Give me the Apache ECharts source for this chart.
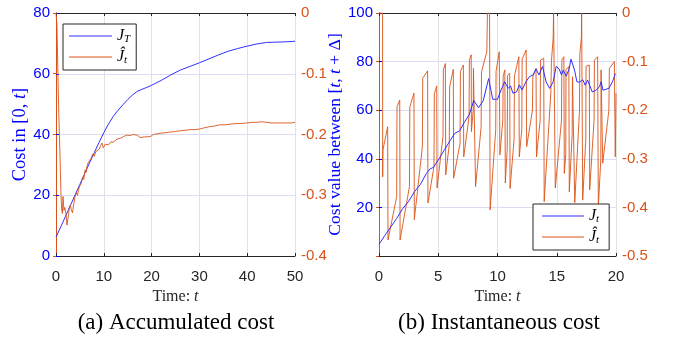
<!DOCTYPE html>
<html>
<head>
<meta charset="utf-8">
<script src="https://cdn.jsdelivr.net/npm/echarts@6/dist/echarts.min.js"></script>
<style>
  html, body { margin: 0; padding: 0; background: #fff; }
  #c { width: 677px; height: 345px; }
</style>
</head>
<body>
<div id="c"></div>
<script>
// ---------- (a) Accumulated cost ----------
const accT = [0,1,2,3,4,5,6,7,8,9,10,11,12,13,14,15,16,17,18,19,20,22,24,26,28,30,32,34,36,38,40,42,44,46,48,50];
const accJ = [6.2,9.6,13.1,16.6,20.1,23.6,27.1,30.6,34.0,37.4,40.6,43.5,46.0,48.0,49.8,51.5,53.0,54.2,54.9,55.5,56.2,57.8,59.6,61.2,62.4,63.6,64.9,66.2,67.4,68.3,69.1,69.8,70.3,70.4,70.5,70.7];

const accHatT = [0,0.2,0.4,0.6,0.85,1.05,1.2,1.35,1.46,1.55,1.67,1.85,2.1,2.3,2.5,2.65,2.8,3.0,3.2,3.45,3.7,4.0,4.25,4.5,4.7,4.9,5.1,5.3,5.55,5.8,6.1,6.3,6.5,6.8,7.0,7.3,7.7,8.0,8.35,8.7,9.05,9.35,9.6,9.9,10.3,10.7,11.0,11.5,12.0,12.5,13.0,13.5,14.0,14.5,15.0,15.5,16.0,17.0,17.6,18.5,19.7,20.4,21.8,23.0,23.9,25.0,25.9,27.0,28.0,29.0,30.1,31.0,32.2,33.2,34.3,35.4,36.4,37.5,38.5,39.9,41.0,42.0,43.0,44.1,45.0,46.2,47.3,48.3,49.2,50];
const accHatV = [0,-0.02,-0.1,-0.17,-0.24,-0.3,-0.325,-0.33,-0.302,-0.3,-0.325,-0.32,-0.332,-0.349,-0.347,-0.33,-0.32,-0.316,-0.324,-0.329,-0.315,-0.302,-0.296,-0.3,-0.292,-0.286,-0.288,-0.28,-0.27,-0.274,-0.258,-0.262,-0.252,-0.245,-0.248,-0.24,-0.232,-0.236,-0.228,-0.23,-0.224,-0.218,-0.214,-0.222,-0.216,-0.214,-0.217,-0.212,-0.213,-0.209,-0.207,-0.206,-0.204,-0.202,-0.201,-0.202,-0.2,-0.201,-0.205,-0.204,-0.2035,-0.2,-0.198,-0.197,-0.196,-0.195,-0.194,-0.193,-0.192,-0.192,-0.191,-0.189,-0.187,-0.186,-0.184,-0.184,-0.183,-0.182,-0.182,-0.181,-0.18,-0.18,-0.179,-0.18,-0.181,-0.181,-0.181,-0.181,-0.181,-0.18];

// ---------- (b) Instantaneous cost ----------
const instT = [0,0.5,1,1.5,2,2.5,3,3.5,4,4.3,4.6,5,5.5,6,6.4,6.8,7.2,7.6,8.0,8.4,8.8,9.25,9.6,10.0,10.3,10.6,10.9,11.1,11.3,11.6,11.85,12.07,12.4,12.7,13.0,13.25,13.5,13.8,14.1,14.4,14.7,14.95,15.2,15.4,15.55,15.8,16.05,16.2,16.5,16.7,16.9,17.2,17.4,17.6,18.0,18.3,18.6,18.75,18.9,19.4,19.7,19.95,20];
const instJ = [4.8,8.5,12,15.5,19.5,22.5,26.5,29.5,34,35.8,36.5,39.5,43.5,47.5,50.5,51.5,55,58,64,61,64,73,64.5,64.5,68.3,71.7,69,70,67,67.5,70.4,68.3,71.7,73.8,74.5,77,74.5,78,71.7,69,71.7,78,77,74.5,76.5,74,77,81,76.5,71.7,71.5,72.5,70.3,72.4,67.5,68.2,69.6,71.7,68.2,69,71.7,75.1,75];

const instHatT = [0,0.3,0.31,0.33,0.73,0.76,
  1.49,1.52,1.75,1.78, 2.57,2.60,2.95,2.98, 3.66,3.69,4.10,4.13, 4.64,4.67,4.87,4.90,
  5.40,5.43,5.60,5.63, 5.93,5.96,6.27,6.30, 6.84,6.87,7.12,7.15, 7.60,7.63,7.78,7.80,
  7.95,7.97,8.12,8.15, 8.62,8.65,9.10,9.15,9.33,9.38, 9.85,9.88,10.15,10.2,
  10.45,10.48,10.62,10.66, 10.82,10.85,11.03,11.06, 11.4,11.43,11.80,11.84,
  12.05,12.08,12.42,12.46, 12.95,12.98,13.25,13.29, 13.6,13.63,13.90,13.94,
  14.5,14.55,14.7,14.73,14.85,14.88, 15.4,15.43,15.6,15.64, 15.76,15.78,16.02,16.06,
  16.3,16.33,16.48,16.52, 16.92,16.95,17.08,17.1,17.16,17.19, 17.45,17.47,17.75,17.78,
  18.15,18.18,18.45,18.51, 18.72,18.74,18.85,18.88, 19.4,19.44,19.86,19.94,20];
const instHatV = [0,0,-0.337,-0.282,-0.234,-0.467,
  -0.378,-0.193,-0.179,-0.467, -0.357,-0.193,-0.165,-0.425, -0.275,-0.134,-0.119,-0.391, -0.316,-0.166,-0.15,-0.36,
  -0.254,-0.117,-0.104,-0.333, -0.27,-0.152,-0.116,-0.34, -0.268,-0.12,-0.107,-0.296, -0.213,-0.097,-0.086,-0.244,
  -0.2,-0.114,-0.11,-0.357, -0.234,-0.121,-0.08,0,0,-0.405, -0.24,-0.12,-0.08,-0.292,
  -0.22,-0.13,-0.117,-0.35, -0.28,-0.128,-0.124,-0.361, -0.26,-0.13,-0.09,-0.296,
  -0.24,-0.095,-0.076,-0.275, -0.2,-0.131,-0.114,-0.296, -0.22,-0.097,-0.093,-0.388,
  -0.165,-0.1,-0.05,0,0,-0.36, -0.22,-0.097,-0.09,-0.33, -0.29,-0.117,-0.11,-0.368,
  -0.25,-0.131,-0.128,-0.39, -0.2,-0.083,-0.05,0,0,-0.385, -0.26,-0.11,-0.107,-0.364,
  -0.22,-0.097,-0.09,-0.399, -0.3,-0.117,-0.115,-0.309, -0.2,-0.114,-0.1,-0.296,-0.165];

// axis ranges / ticks  [min, max, interval]
const accXTicks = [0, 50, 10];
const accYLeft = [0, 80, 20];
const accYRight = [-0.4, 0, 0.1];
const instXTicks = [0, 20, 5];
const instYLeft = [0, 100, 20];
const instYRight = [-0.5, 0, 0.1];

const pair = (t, v) => t.map((x, i) => [x, v[i]]);

const AX = '#262626', BLUE = '#0000ff', ORANGE = '#d95319', LBLUE = '#3030ff';
const GRID_H = '#dcdcf6', GRID_V = '#e2e2e2';
const SANS = '"Liberation Sans", Arial, sans-serif';
const SERIF = '"Liberation Serif", "Times New Roman", serif';
const TICK_FS = 15;

function xAxes(gi, r) {
  return [{
    gridIndex: gi, type: 'value', position: 'bottom', min: r[0], max: r[1], interval: r[2],
    axisLine: { show: true, lineStyle: { color: AX, width: 1 } },
    axisTick: { show: true, inside: true, length: 3, lineStyle: { color: AX } },
    axisLabel: { color: AX, fontSize: TICK_FS, fontFamily: SANS, margin: 13 },
    splitLine: { show: true, lineStyle: { color: GRID_V, width: 1 } },
    name: 'Time: {i|t}', nameLocation: 'middle', nameGap: 29,
    nameTextStyle: { color: AX, fontFamily: SERIF, fontSize: 16,
      rich: { i: { fontStyle: 'italic', fontFamily: SERIF, fontSize: 16, color: AX } } }
  }, {
    gridIndex: gi, type: 'value', position: 'top', min: r[0], max: r[1], interval: r[2],
    axisLine: { show: true, lineStyle: { color: AX, width: 1 } },
    axisTick: { show: true, inside: true, length: 3, lineStyle: { color: AX } },
    axisLabel: { show: false }, splitLine: { show: false }
  }];
}

function yAxes(gi, rl, rr, name, showMin, fs) {
  return [{
    gridIndex: gi, type: 'value', position: 'left', min: rl[0], max: rl[1], interval: rl[2],
    axisLine: { show: true, lineStyle: { color: BLUE, width: 1 } },
    axisTick: { show: true, inside: true, length: 3, lineStyle: { color: BLUE } },
    axisLabel: { color: BLUE, fontSize: TICK_FS, fontFamily: SANS, margin: 6, showMinLabel: showMin },
    splitLine: { show: true, lineStyle: { color: GRID_H, width: 1 } },
    name: name, nameLocation: 'middle', nameRotate: 90, nameGap: 24,
    nameTextStyle: { color: BLUE, fontFamily: SERIF, fontSize: fs,
      rich: { i: { fontStyle: 'italic', fontFamily: SERIF, fontSize: fs, color: BLUE },
              n: { fontFamily: SERIF, fontSize: fs, color: BLUE } } }
  }, {
    gridIndex: gi, type: 'value', position: 'right', min: rr[0], max: rr[1], interval: rr[2],
    axisLine: { show: true, lineStyle: { color: ORANGE, width: 1 } },
    axisTick: { show: true, inside: true, length: 3, lineStyle: { color: ORANGE } },
    axisLabel: { color: ORANGE, fontSize: TICK_FS, fontFamily: SANS, margin: 6 },
    splitLine: { show: false }
  }];
}

const legendRich = {
  j: { fontFamily: SERIF, fontStyle: 'italic', fontSize: 16, color: '#000', lineHeight: 18, verticalAlign: 'middle' },
  s: { fontFamily: SERIF, fontStyle: 'italic', fontSize: 11, color: '#000', lineHeight: 18, verticalAlign: 'bottom' }
};
const legendNames = {
  'J_T': '{j|J}{s|T}',
  'Jhat_acc': '{j|Ĵ}{s|t}',
  'J_t': '{j|J}{s|t}',
  'Jhat_inst': '{j|Ĵ}{s|t}'
};
function legend(names, left, top, iw, pad) {
  return {
    data: names, left: left, top: top, orient: 'vertical',
    backgroundColor: '#fff', borderColor: '#262626', borderWidth: 1,
    padding: pad, itemWidth: iw, itemHeight: 1, itemGap: 4,
    icon: 'rect', selectedMode: false,
    formatter: n => legendNames[n],
    textStyle: { rich: legendRich }
  };
}

const option = {
  animation: false,
  backgroundColor: '#fff',
  grid: [
    { left: 56, top: 13, width: 239, height: 243 },
    { left: 379, top: 13, width: 237, height: 243 }
  ],
  xAxis: [...xAxes(0, accXTicks), ...xAxes(1, instXTicks)],
  yAxis: [
    ...yAxes(0, accYLeft, accYRight, '{n|Cost in [0, }{i|t}{n|]}', true, 18.5),
    ...yAxes(1, instYLeft, instYRight, '{n|Cost value between [}{i|t}{n|, }{i|t}{n| + Δ]}', false, 17.6)
  ],
  legend: [
    legend(['J_T', 'Jhat_acc'], 63, 24, 43, [4, 6, 4, 6]),
    legend(['J_t', 'Jhat_inst'], 533, 204, 42, [4, 10, 4, 9])
  ],
  series: [
    { name: 'J_T', type: 'line', xAxisIndex: 0, yAxisIndex: 0, data: pair(accT, accJ),
      symbol: 'none', showSymbol: false, lineStyle: { color: LBLUE, width: 1 }, itemStyle: { color: LBLUE } },
    { name: 'Jhat_acc', type: 'line', xAxisIndex: 0, yAxisIndex: 1, data: pair(accHatT, accHatV),
      symbol: 'none', showSymbol: false, lineStyle: { color: ORANGE, width: 0.9 }, itemStyle: { color: ORANGE } },
    { name: 'Jhat_inst', type: 'line', xAxisIndex: 2, yAxisIndex: 3, data: pair(instHatT, instHatV),
      symbol: 'none', showSymbol: false, lineStyle: { color: ORANGE, width: 0.9 }, itemStyle: { color: ORANGE } },
    { name: 'J_t', type: 'line', xAxisIndex: 2, yAxisIndex: 2, data: pair(instT, instJ),
      symbol: 'none', showSymbol: false, lineStyle: { color: LBLUE, width: 1 }, itemStyle: { color: LBLUE } }
  ],
  graphic: [
    { type: 'text', x: 176, y: 323, style: { text: '(a) Accumulated cost', font: '23px ' + SERIF, fill: '#000', align: 'center', verticalAlign: 'middle' } },
    { type: 'text', x: 499, y: 323, style: { text: '(b) Instantaneous cost', font: '23px ' + SERIF, fill: '#000', align: 'center', verticalAlign: 'middle' } }
  ]
};

const chart = echarts.init(document.getElementById('c'), null, { renderer: 'canvas' });
chart.setOption(option);
</script>
</body>
</html>
